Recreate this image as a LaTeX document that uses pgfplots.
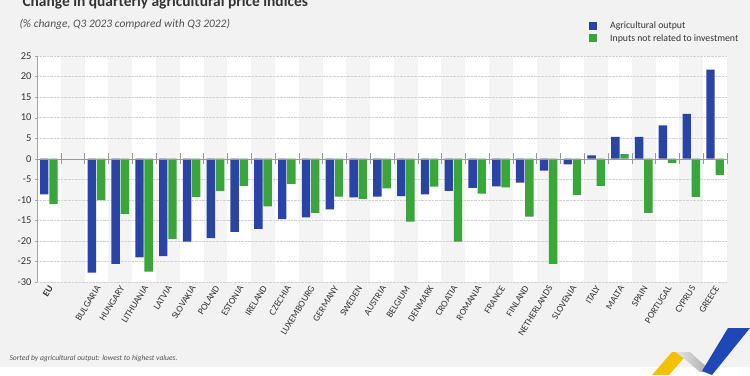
\documentclass[border=0pt]{standalone}
\usepackage{fontspec}
\setmainfont{Carlito}
\usepackage{pgfplots}
\pgfplotsset{compat=1.18}
\usepackage{pgfplotstable}
\definecolor{bgc}{HTML}{F2F2F2}
\definecolor{bandc}{HTML}{F4F4F4}
\definecolor{bluec}{HTML}{2A44A6}
\definecolor{greenc}{HTML}{3AA53A}
\definecolor{txtc}{HTML}{333333}
\definecolor{logoy}{HTML}{F2C200}
\definecolor{logob}{HTML}{1F47B8}

\pgfplotstableread{
x blue green
0 -8.7 -11.0
2 -27.7 -10.1
3 -25.6 -13.4
4 -24.0 -27.5
5 -23.7 -19.5
6 -20.2 -9.3
7 -19.3 -7.9
8 -17.8 -6.6
9 -17.1 -11.6
10 -14.7 -6.1
11 -14.3 -13.2
12 -12.3 -9.2
13 -9.4 -9.8
14 -9.2 -7.2
15 -9.1 -15.3
16 -8.7 -6.8
17 -7.8 -20.2
18 -7.1 -8.5
19 -6.7 -7.0
20 -5.8 -14.1
21 -2.9 -25.6
22 -1.4 -8.8
23 0.8 -6.6
24 5.3 1.1
25 5.3 -13.2
26 8.1 -1.1
27 10.9 -9.3
28 21.7 -3.9
}\data

\begin{document}
\begin{tikzpicture}[x=1bp,y=1bp]
\path[use as bounding box] (0,0) rectangle (750,375);
\fill[bgc] (0,8) rectangle (750,375);
\fill[white] (37,93) rectangle (727,319);
\foreach \k in {1,3,...,27} \fill[bandc] ({37+23.7931*\k},93) rectangle ({37+23.7931*(\k+1)},319);

\node[anchor=base west, font=\bfseries\fontsize{15.5}{16}\selectfont, text=txtc] at (19,369) {Change in quarterly agricultural price indices};
\node[anchor=base west, font=\itshape\fontsize{11.5}{12}\selectfont, text=txtc!85] at (16,348) {(\% change, Q3 2023 compared with Q3 2022)};
\node[anchor=base west, font=\itshape\fontsize{7.6}{8}\selectfont, text=txtc!85] at (6,15) {Sorted by agricultural output: lowest to highest values.};

% logo
\fill[logoy] (652,0) -- (672,23) -- (689,23) -- (669,0) -- cycle;
\shade[left color=gray!20, right color=gray!70] (676,23) -- (690,23) -- (712,3) -- (700,3) -- cycle;
\fill[logob] (702,4) -- (728,47) -- (750,47) -- (712,0) -- cycle;

\begin{axis}[
  at={(37bp,93bp)}, anchor=south west, scale only axis,
  width=690bp, height=226bp,
  xmin=-0.5, xmax=28.5, ymin=-30, ymax=25,
  axis x line*=bottom, axis y line*=left,
  x axis line style={draw=none},
  y axis line style={draw=gray!70, -},
  xtick={0,...,28},
  xticklabels={\textbf{EU},,BULGARIA,HUNGARY,LITHUANIA,LATVIA,SLOVAKIA,POLAND,ESTONIA,IRELAND,CZECHIA,LUXEMBOURG,GERMANY,SWEDEN,AUSTRIA,BELGIUM,DENMARK,CROATIA,ROMANIA,FRANCE,FINLAND,NETHERLANDS,SLOVENIA,ITALY,MALTA,SPAIN,PORTUGAL,CYPRUS,GREECE},
  x tick label style={rotate=58, anchor=east, font=\fontsize{9.5}{10}\selectfont, text=txtc, inner sep=1pt, yshift=-3bp},
  major x tick style={draw=none},
  ytick={-30,-25,...,25},
  y tick label style={font=\fontsize{10.5}{11}\selectfont, text=txtc},
  y tick style={draw=gray!70},
  tick align=outside, major tick length=2bp,
  ymajorgrids, grid style={densely dotted, draw=gray!35},
  /pgf/number format/assume math mode=true,
  bar width=8.4bp,
  clip=false,
  legend style={draw=none, fill=none, inner sep=0pt, at={(axis description cs:0.8,1.16)}, anchor=north west,
    font=\fontsize{9.8}{10.5}\selectfont, text=txtc, row sep=0pt, cells={anchor=west}},
  legend image code/.code={\fill[#1] (0bp,-3.5bp) rectangle (8bp,4bp); \path (19bp,0bp);},
]
\addplot[ybar, fill=bluec, draw=none, bar shift=-4.6bp] table[x=x,y=blue]{\data};
\addlegendentry{Agricultural output}
\addplot[ybar, fill=greenc, draw=none, bar shift=4.6bp] table[x=x,y=green]{\data};
\addlegendentry{Inputs not related to investment}
\draw[gray!80] (axis cs:-0.5,0) -- (axis cs:28.5,0);
\pgfplotsinvokeforeach{0,...,28}{\draw[gray!80] (axis cs:#1.5,-1.3) -- (axis cs:#1.5,1.3);}
\end{axis}
\end{tikzpicture}
\end{document}
